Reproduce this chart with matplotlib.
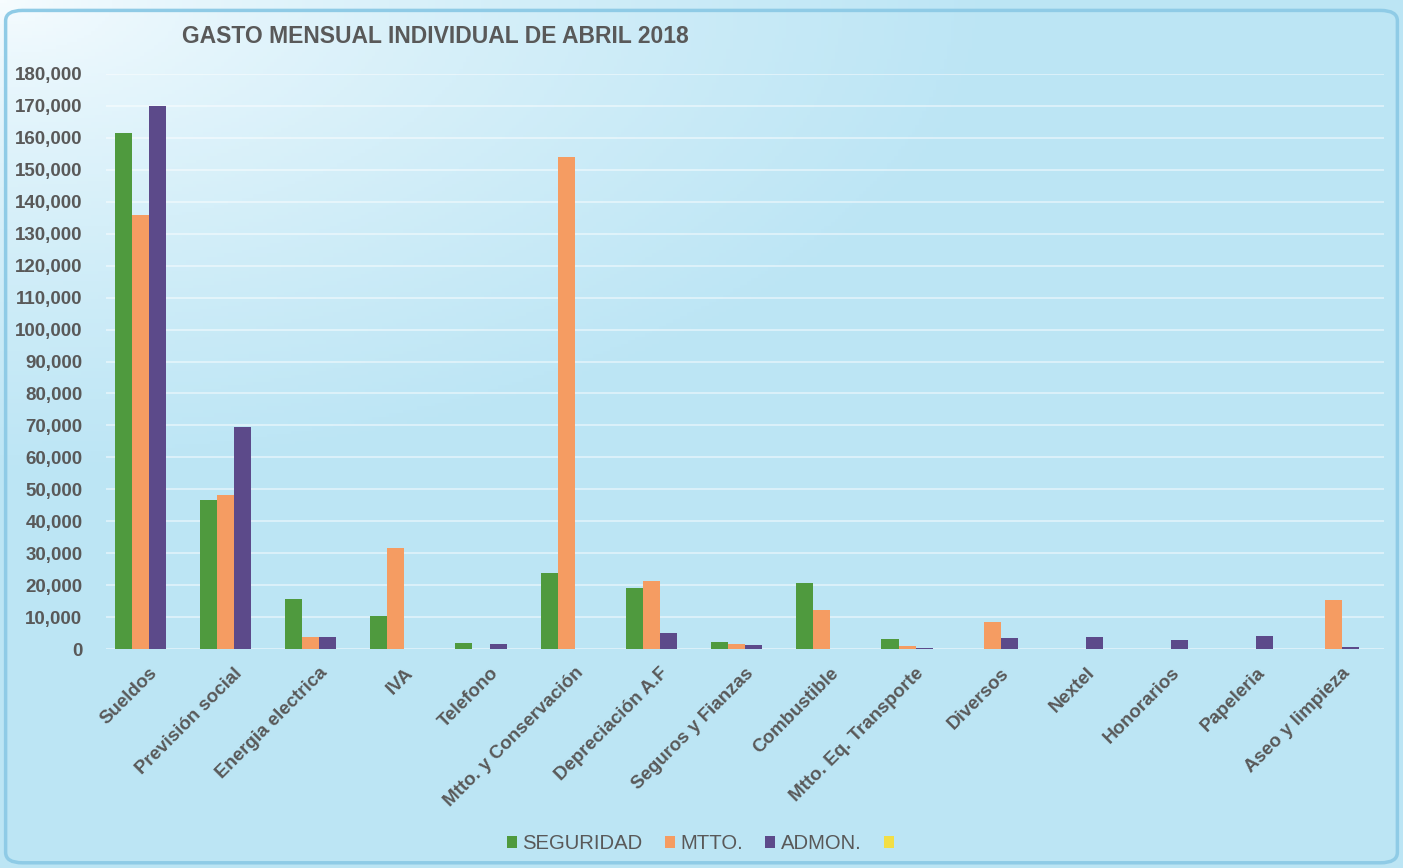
import matplotlib
matplotlib.use('Agg')
import matplotlib.pyplot as plt
import numpy as np
from matplotlib.patches import FancyBboxPatch
from matplotlib.ticker import FuncFormatter

categorias = ['Sueldos', 'Previsión social', 'Energia electrica', 'IVA', 'Telefono',
              'Mtto. y Conservación', 'Depreciación A.F', 'Seguros y Fianzas', 'Combustible',
              'Mtto. Eq. Transporte', 'Diversos', 'Nextel', 'Honorarios', 'Papeleria',
              'Aseo y limpieza']
seguridad = [161600, 46600, 15600, 10500, 2100, 23900, 19200, 2300, 20600, 3200, 0, 0, 0, 0, 0]
mtto = [135900, 48400, 3800, 31600, 0, 154000, 21400, 1800, 12300, 1000, 8500, 0, 0, 0, 15400]
admon = [170000, 69400, 3800, 0, 1800, 0, 5200, 1200, 0, 400, 3500, 3900, 2800, 4200, 600]
extra = [0] * 15
series_names = ['SEGURIDAD', 'MTTO.', 'ADMON.', ' ']

colores = ['#4f9a3e', '#f59c62', '#5c4a8a', '#f2de45']
gris = '#595959'

fig = plt.figure(figsize=(14.03, 8.68), dpi=100)

# fondo degradado
bg = fig.add_axes([0, 0, 1, 1], zorder=-2)
xx, yy = np.meshgrid(np.linspace(0, 1, 400), np.linspace(0, 1, 250))
d = np.sqrt((xx * 1.0) ** 2 + (yy * 1.3) ** 2)
t = np.clip(d / 0.7, 0, 1) ** 0.75
c0 = np.array([0.97, 0.99, 1.0])
c1 = np.array([0.74, 0.90, 0.96])
img = c0[None, None, :] * (1 - t[..., None]) + c1[None, None, :] * t[..., None]
bg.imshow(img, extent=[0, 1, 0, 1], origin='upper', aspect='auto')
bg.set_xlim(0, 1)
bg.set_ylim(0, 1)
bg.axis('off')
borde = FancyBboxPatch((0.004, 0.006), 0.992, 0.982, boxstyle='round,pad=0,rounding_size=0.012',
                       transform=bg.transAxes, fill=False, edgecolor='#8fcbe6', lw=2.5)
bg.add_patch(borde)

ax = fig.add_axes([0.0756, 0.252, 0.911, 0.663])
ax.set_facecolor('none')
x = np.arange(len(categorias))
w = 0.2
for i, (vals, col, name) in enumerate(zip([seguridad, mtto, admon, extra], colores, series_names)):
    ax.bar(x + (i - 1.5) * w, vals, width=w, color=col, label=name, zorder=3)

ax.set_xlim(-0.5, len(categorias) - 0.5)
ax.set_ylim(0, 180000)
ax.set_yticks(np.arange(0, 180001, 10000))
ax.yaxis.set_major_formatter(FuncFormatter(lambda v, p: f'{int(v):,}'))
ax.set_xticks(x)
ax.set_xticklabels(categorias, rotation=45, ha='right', rotation_mode='anchor')
ax.tick_params(axis='both', length=0, colors=gris, labelsize=13.5)
ax.tick_params(axis='y', pad=17)
ax.tick_params(axis='x', pad=11)
for lbl in ax.get_xticklabels() + ax.get_yticklabels():
    lbl.set_fontfamily('Liberation Sans')
    lbl.set_fontweight('bold')
    lbl.set_color(gris)
for s in ax.spines.values():
    s.set_visible(False)
ax.grid(axis='y', color='white', lw=1.2, alpha=0.55, zorder=1)

fig.text(0.13, 0.958, 'GASTO MENSUAL INDIVIDUAL DE ABRIL 2018', fontsize=16.5, fontweight='bold',
         color=gris, family='Liberation Sans', ha='left', va='center')

leg = fig.legend(loc='center', bbox_to_anchor=(0.503, 0.028), ncol=4, frameon=False,
                 handlelength=0.5, handleheight=0.5, handletextpad=0.26, columnspacing=1.1,
                 prop={'family': 'Liberation Sans', 'size': 14.6})
for txt in leg.get_texts():
    txt.set_color(gris)

fig.savefig('out.png', dpi=100)
